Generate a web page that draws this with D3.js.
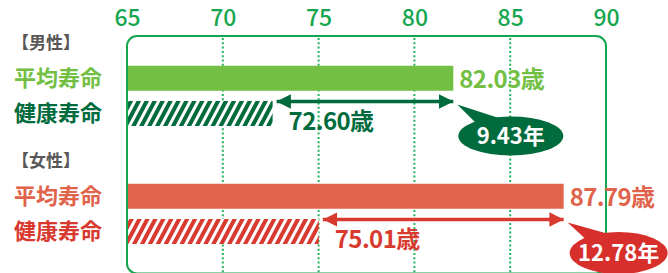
<!DOCTYPE html>
<html><head><meta charset="utf-8">
<script src="https://cdn.jsdelivr.net/npm/d3@7"></script>
<style>
html,body{margin:0;padding:0;background:#fff;}
svg{display:block;font-family:"Noto Sans CJK JP","Noto Sans",sans-serif;}
</style></head>
<body>
<svg id="chart" width="668" height="273"></svg>
<script>
// ---- data ----
const groups = ["男性", "女性"];
const categories = ["平均寿命", "健康寿命"];
const maleValues = [82.03, 72.60];
const femaleValues = [87.79, 75.01];
const gapValues = [9.43, 12.78];
const tickValues = [65, 70, 75, 80, 85, 90];

// ---- styles ----
const C = {
  axis: "#17a650", grid: "#22b45a", header: "#595757",
  avg: ["#72bf44", "#df644b"], hlt: ["#006b3c", "#d93a30"], bubble: ["#006b3c", "#d7302c"]
};

const svg = d3.select("#chart");
const x = d3.scaleLinear().domain([65, 90]).range([127, 606]);
const yGroup = d3.scaleBand().domain(groups).range([43, 279]);
const yRow = d3.scalePoint().domain(["header"].concat(categories)).range([0, 70.5]);
const barH = 25;
const frameTop = 36, frameBottom = 273.5;

// defs: hatch patterns + arrow markers
const defs = svg.append("defs");
C.hlt.forEach((col, i) => {
  const p = defs.append("pattern").attr("id", "hatch" + i)
    .attr("patternUnits", "userSpaceOnUse").attr("width", 7).attr("height", 10)
    .attr("patternTransform", "rotate(28)");
  p.append("rect").attr("width", 7).attr("height", 10).attr("fill", "#fff");
  p.append("rect").attr("width", 4).attr("height", 10).attr("fill", col);
  const m = defs.append("marker").attr("id", "ah" + i)
    .attr("viewBox", "0 0 10 10").attr("refX", 10).attr("refY", 5)
    .attr("markerWidth", 4.2).attr("markerHeight", 4.2).attr("markerUnits", "strokeWidth")
    .attr("orient", "auto-start-reverse");
  m.append("path").attr("d", "M0,0 L10,5 L0,10 Z").attr("fill", col);
});

// layers
const gridLayer = svg.append("g");
const barLayer = svg.append("g");
const frameLayer = svg.append("g");
const topLayer = svg.append("g");

// tick labels
const axis = d3.axisTop(x).tickValues(tickValues).tickSize(0).tickPadding(0);
const ag = svg.append("g").attr("transform", "translate(0,26)").call(axis);
ag.select(".domain").remove();
ag.selectAll("text").attr("fill", C.axis).attr("font-size", 23).attr("font-weight", 500)
  .attr("font-family", "'Noto Sans CJK JP', sans-serif");

// grid lines
gridLayer.selectAll("line").data(tickValues.slice(1, -1)).join("line")
  .attr("x1", d => x(d)).attr("x2", d => x(d))
  .attr("y1", frameTop + 2).attr("y2", frameBottom)
  .attr("stroke", C.grid).attr("stroke-width", 2).attr("stroke-dasharray", "2,2.3");

// frame
frameLayer.append("rect")
  .attr("x", x(65)).attr("y", frameTop).attr("width", x(90) - x(65)).attr("height", frameBottom - frameTop)
  .attr("rx", 10).attr("fill", "none").attr("stroke", C.axis).attr("stroke-width", 2);

const valueSets = [maleValues, femaleValues];

groups.forEach((g, gi) => {
  const base = yGroup(g);
  const vals = valueSets[gi];
  const yAvg = base + yRow("平均寿命");
  const yHlt = base + yRow("健康寿命");
  const gg = topLayer.append("g");

  // header
  gg.append("text").attr("x", 12).attr("y", base + yRow("header")).attr("dy", "0.36em")
    .attr("fill", C.header).attr("font-size", 17).attr("font-weight", 700).text("【" + g + "】");

  // category labels
  gg.selectAll("text.cat").data(categories).join("text").attr("class", "cat")
    .attr("x", 14).attr("y", d => base + yRow(d)).attr("dy", "0.36em")
    .attr("fill", (d, i) => i === 0 ? C.avg[gi] : C.hlt[gi])
    .attr("font-size", 22).attr("font-weight", 700).text(d => d);

  // bars
  barLayer.append("rect").attr("x", x(65)).attr("y", yAvg - barH / 2)
    .attr("width", x(vals[0]) - x(65)).attr("height", barH).attr("fill", C.avg[gi]);
  barLayer.append("rect").attr("x", x(65)).attr("y", yHlt - barH / 2)
    .attr("width", x(vals[1]) - x(65)).attr("height", barH).attr("fill", "url(#hatch" + gi + ")");

  // value labels
  gg.append("text").attr("x", x(vals[0]) + 6).attr("y", yAvg + 1).attr("dy", "0.36em")
    .attr("fill", C.avg[gi]).attr("font-size", 24).attr("font-weight", 700)
    .attr("letter-spacing", -0.6).text(vals[0].toFixed(2) + "歳");
  gg.append("text").attr("x", x(vals[1]) + 16).attr("y", yHlt + 8).attr("dy", "0.36em")
    .attr("fill", C.hlt[gi]).attr("font-size", 24).attr("font-weight", 700)
    .attr("letter-spacing", -0.6).text(vals[1].toFixed(2) + "歳");

  // double arrow
  const ay = yHlt - 12;
  gg.append("line").attr("x1", x(vals[1]) + 4).attr("x2", x(vals[0]))
    .attr("y1", ay).attr("y2", ay)
    .attr("stroke", C.hlt[gi]).attr("stroke-width", 3.4)
    .attr("marker-start", "url(#ah" + gi + ")").attr("marker-end", "url(#ah" + gi + ")");

  // bubble
  const bx = x(vals[0]) + (gi === 0 ? 57.5 : 55), by = yHlt + (gi === 0 ? 22.5 : 21.5);
  const rx = gi === 0 ? 52.5 : 49, ry = gi === 0 ? 19.5 : 21;
  const tipX = x(vals[0]) + 4, tipY = ay + 3;
  gg.append("path")
    .attr("d", `M${tipX},${tipY} L${bx - rx * 0.62},${by - ry * 0.55} L${bx - rx * 0.2},${by - ry * 0.9} Z`)
    .attr("fill", C.bubble[gi]);
  gg.append("ellipse").attr("cx", bx).attr("cy", by).attr("rx", rx).attr("ry", ry)
    .attr("fill", C.bubble[gi]);
  gg.append("text").attr("x", bx).attr("y", by).attr("dy", "0.36em").attr("text-anchor", "middle")
    .attr("fill", "#fff").attr("font-size", 22).attr("font-weight", 700)
    .text(gapValues[gi].toFixed(2) + "年");
});
</script>
</body></html>
